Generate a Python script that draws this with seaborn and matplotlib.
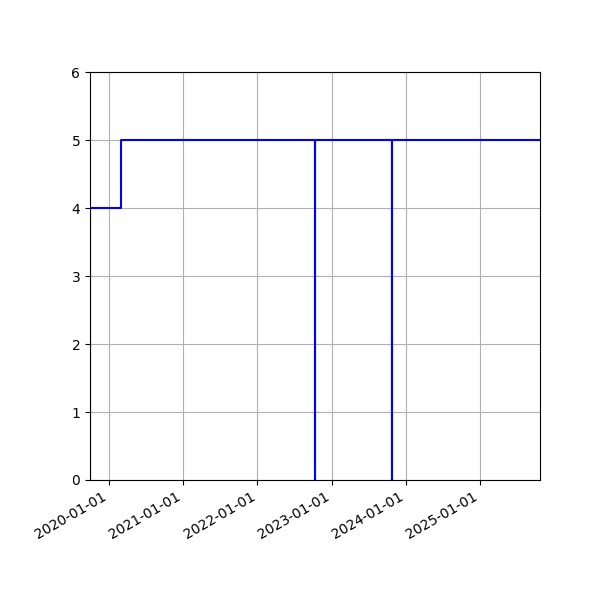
import pandas as pd
import matplotlib.pyplot as plt
import matplotlib.dates as mdates
import seaborn as sns

# step changes (date, value), drawn as steps-post
datas = ['2019-10-01', '2019-10-03', '2020-02-28', '2022-10-10', '2022-10-13',
         '2023-10-23', '2023-10-26', '2025-10-22']
valores = [0, 4, 5, 0, 5, 0, 5, 5]

df = pd.DataFrame({'data': pd.to_datetime(datas), 'valor': valores})

fig, ax = plt.subplots(figsize=(6, 6), dpi=100)
sns.lineplot(x='data', y='valor', data=df, ax=ax, color='blue',
             drawstyle='steps-post', linewidth=1.5)

ax.set_xlim(df['data'].min(), df['data'].max())
ax.set_ylim(0, 6)
ax.grid(True)
ax.set_axisbelow(True)
ax.set_xlabel('')
ax.set_ylabel('')
ax.xaxis.set_major_locator(mdates.YearLocator())
ax.xaxis.set_major_formatter(mdates.DateFormatter('%Y-%m-%d'))
fig.autofmt_xdate()
fig.subplots_adjust(left=0.15, right=0.9, top=0.88, bottom=0.2)

plt.savefig('out.png', dpi=100)
